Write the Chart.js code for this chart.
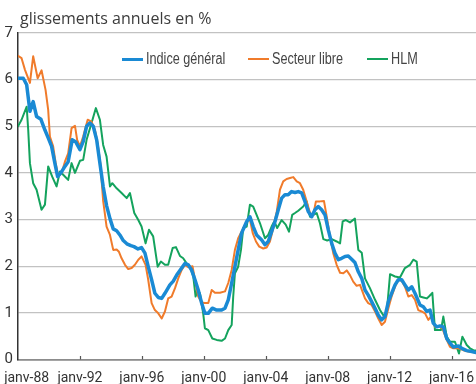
<!DOCTYPE html>
<html lang="fr">
<head>
<meta charset="UTF-8">
<title>Loyers - glissements annuels</title>
<script src="https://cdn.jsdelivr.net/npm/chart.js@4.4.1/dist/chart.umd.min.js"></script>
<style>
    html, body {
        margin: 0;
        padding: 0;
        background: #fff;
        overflow: hidden;
    }
    .wrap {
        position: relative;
        width: 476px;
        height: 384px;
    }
    .title {
        position: absolute;
        left: 20px;
        top: 7px;
        font-family: 'Open Sans', sans-serif;
        font-size: 16px;
        color: #3c3c3c;
        white-space: nowrap;
    }
    .legend-item {
        position: absolute;
        top: 49px;
        height: 20px;
        display: flex;
        align-items: center;
        white-space: nowrap;
    }
    .legend-item span {
        display: inline-block;
        width: 21px;
        margin-right: 3px;
    }
    .legend-item em {
        font-style: normal;
        font-family: 'Liberation Sans', Arial, sans-serif;
        font-size: 16px;
        color: #444;
        display: inline-block;
        transform: scaleX(0.79);
        transform-origin: left center;
    }
</style>
</head>
<body>
<div class="wrap">
    <canvas id="chart" width="476" height="384"></canvas>
    <div class="title">glissements annuels en %</div>
    <div id="legend"></div>
</div>
<script>
// Indice général
const indiceYears = [1988.0, 1988.34, 1988.56, 1988.77, 1988.98, 1989.20, 1989.48, 1989.74, 1989.95, 1990.17,
    1990.38, 1990.56, 1990.77, 1991.03, 1991.24, 1991.50, 1991.72, 1992.00, 1992.21, 1992.43,
    1992.64, 1992.86, 1993.08, 1993.29, 1993.50, 1993.72, 1993.94, 1994.15, 1994.37, 1994.58,
    1994.80, 1995.03, 1995.29, 1995.49, 1995.75, 1995.98, 1996.20, 1996.41, 1996.63, 1996.84,
    1997.06, 1997.28, 1997.49, 1997.81, 1998.03, 1998.25, 1998.57, 1998.78, 1999.00, 1999.21,
    1999.43, 1999.64, 1999.86, 2000.07, 2000.29, 2000.55, 2000.83, 2001.15, 2001.37, 2001.58,
    2001.80, 2002.01, 2002.22, 2002.44, 2002.77, 2002.98, 2003.19, 2003.41, 2003.74, 2003.95,
    2004.16, 2004.38, 2004.60, 2004.81, 2005.03, 2005.24, 2005.45, 2005.67, 2005.89, 2006.10,
    2006.32, 2006.53, 2006.75, 2006.97, 2007.18, 2007.39, 2007.61, 2007.83, 2008.04, 2008.26,
    2008.47, 2008.69, 2008.90, 2009.12, 2009.33, 2009.55, 2009.76, 2009.98, 2010.20, 2010.41,
    2010.62, 2010.84, 2011.06, 2011.27, 2011.49, 2011.70, 2011.92, 2012.13, 2012.35, 2012.56,
    2012.78, 2012.99, 2013.21, 2013.43, 2013.64, 2013.96, 2014.18, 2014.40, 2014.61, 2014.82,
    2015.04, 2015.26, 2015.47, 2015.69, 2015.90, 2016.11, 2016.44, 2016.66, 2016.98, 2017.30,
    2017.58];
const indiceValues = [6.03, 6.03, 5.89, 5.32, 5.53, 5.21, 5.15, 4.92, 4.75, 4.57,
    4.21, 3.92, 4.00, 4.14, 4.24, 4.71, 4.67, 4.50, 4.67, 5.00,
    5.07, 5.00, 4.71, 4.21, 3.71, 3.30, 3.02, 2.80, 2.76, 2.67,
    2.55, 2.48, 2.44, 2.42, 2.37, 2.40, 2.28, 1.99, 1.71, 1.42,
    1.33, 1.31, 1.42, 1.60, 1.68, 1.81, 1.96, 2.06, 2.03, 1.92,
    1.71, 1.49, 1.21, 0.99, 0.99, 1.10, 1.06, 1.06, 1.10, 1.28,
    1.64, 1.99, 2.35, 2.71, 2.96, 3.06, 2.85, 2.67, 2.56, 2.46,
    2.53, 2.74, 2.96, 3.21, 3.46, 3.53, 3.53, 3.60, 3.58, 3.60,
    3.57, 3.39, 3.17, 3.06, 3.21, 3.28, 3.21, 3.10, 2.78, 2.49,
    2.28, 2.14, 2.17, 2.21, 2.22, 2.15, 2.08, 1.88, 1.74, 1.49,
    1.38, 1.24, 1.10, 0.95, 0.85, 0.92, 1.24, 1.42, 1.60, 1.71,
    1.71, 1.60, 1.49, 1.56, 1.42, 1.17, 1.13, 1.03, 1.06, 0.78,
    0.70, 0.72, 0.70, 0.45, 0.35, 0.27, 0.29, 0.24, 0.19, 0.17,
    0.15];

// Secteur libre
const libreYears = [1988.0, 1988.23, 1988.45, 1988.77, 1988.98, 1989.27, 1989.52, 1989.78, 1989.95, 1990.06,
    1990.27, 1990.43, 1990.60, 1990.82, 1991.03, 1991.24, 1991.46, 1991.68, 1991.82, 1992.00,
    1992.21, 1992.50, 1992.75, 1992.97, 1993.14, 1993.32, 1993.50, 1993.72, 1993.94, 1994.15,
    1994.37, 1994.52, 1994.69, 1994.91, 1995.12, 1995.34, 1995.55, 1995.77, 1995.98, 1996.24,
    1996.41, 1996.63, 1996.84, 1997.06, 1997.28, 1997.49, 1997.70, 1997.92, 1998.14, 1998.35,
    1998.57, 1998.78, 1999.00, 1999.27, 1999.47, 1999.64, 1999.86, 2000.07, 2000.29, 2000.51,
    2000.72, 2001.04, 2001.37, 2001.58, 2001.80, 2002.01, 2002.22, 2002.44, 2002.77, 2002.94,
    2003.16, 2003.37, 2003.58, 2003.84, 2004.06, 2004.27, 2004.49, 2004.71, 2004.92, 2005.13,
    2005.35, 2005.57, 2005.78, 2006.00, 2006.21, 2006.42, 2006.64, 2006.86, 2007.07, 2007.24,
    2007.50, 2007.76, 2007.94, 2008.15, 2008.36, 2008.58, 2008.80, 2009.01, 2009.23, 2009.44,
    2009.65, 2009.87, 2010.09, 2010.41, 2010.62, 2010.84, 2011.06, 2011.27, 2011.49, 2011.70,
    2011.92, 2012.13, 2012.35, 2012.56, 2012.78, 2012.99, 2013.21, 2013.43, 2013.64, 2013.85,
    2014.07, 2014.29, 2014.50, 2014.67, 2014.93, 2015.15, 2015.40, 2015.69, 2015.90, 2016.11,
    2016.44, 2016.76, 2017.08, 2017.58];
const libreValues = [6.51, 6.46, 6.21, 5.93, 6.50, 6.03, 6.20, 5.78, 5.35, 4.78,
    4.57, 4.22, 3.92, 4.00, 4.24, 4.42, 4.96, 5.01, 4.71, 4.57,
    4.78, 5.14, 5.10, 4.92, 4.64, 4.20, 3.40, 2.85, 2.67, 2.35,
    2.36, 2.31, 2.17, 2.03, 1.94, 1.96, 2.03, 2.14, 2.21, 2.03,
    1.71, 1.21, 1.06, 0.99, 0.88, 1.03, 1.31, 1.35, 1.53, 1.74,
    1.92, 2.03, 1.98, 2.00, 1.64, 1.35, 1.22, 1.21, 1.21, 1.49,
    1.43, 1.43, 1.46, 1.64, 1.92, 2.35, 2.60, 2.74, 2.96, 3.06,
    2.71, 2.53, 2.42, 2.38, 2.40, 2.53, 2.82, 3.17, 3.64, 3.82,
    3.87, 3.89, 3.91, 3.82, 3.78, 3.64, 3.39, 3.14, 3.10, 3.39,
    3.39, 3.40, 3.06, 2.64, 2.28, 2.03, 1.86, 1.85, 1.91, 1.81,
    1.67, 1.58, 1.60, 1.31, 1.21, 1.17, 1.03, 0.88, 0.74, 0.81,
    1.10, 1.35, 1.56, 1.71, 1.69, 1.56, 1.35, 1.38, 1.28, 1.06,
    1.03, 0.99, 0.85, 0.92, 0.70, 0.72, 0.67, 0.42, 0.27, 0.24,
    0.24, 0.20, 0.17, 0.15];

// HLM
const hlmYears = [1988.0, 1988.23, 1988.56, 1988.66, 1988.77, 1988.98, 1989.20, 1989.52, 1989.74, 1989.95,
    1990.21, 1990.49, 1990.71, 1990.92, 1991.24, 1991.46, 1991.68, 1992.00, 1992.21, 1992.43,
    1992.75, 1993.03, 1993.29, 1993.50, 1993.72, 1993.94, 1994.09, 1994.37, 1994.69, 1995.02,
    1995.23, 1995.51, 1995.77, 1995.98, 1996.24, 1996.46, 1996.73, 1997.02, 1997.23, 1997.49,
    1997.70, 1997.99, 1998.20, 1998.46, 1998.67, 1998.89, 1999.11, 1999.32, 1999.47, 1999.60,
    1999.75, 1999.96, 2000.07, 2000.29, 2000.55, 2000.83, 2001.15, 2001.37, 2001.58, 2001.80,
    2001.90, 2002.01, 2002.22, 2002.40, 2002.55, 2002.77, 2002.98, 2003.19, 2003.41, 2003.63,
    2003.95, 2004.16, 2004.38, 2004.55, 2004.74, 2005.03, 2005.29, 2005.50, 2005.71, 2005.89,
    2006.10, 2006.42, 2006.64, 2006.86, 2007.07, 2007.29, 2007.50, 2007.72, 2007.97, 2008.26,
    2008.58, 2008.80, 2008.97, 2009.18, 2009.44, 2009.76, 2009.98, 2010.20, 2010.41, 2010.73,
    2011.06, 2011.38, 2011.59, 2011.81, 2012.03, 2012.35, 2012.67, 2012.99, 2013.32, 2013.53,
    2013.75, 2013.96, 2014.18, 2014.40, 2014.54, 2014.76, 2014.93, 2015.15, 2015.32, 2015.47,
    2015.69, 2015.90, 2016.22, 2016.48, 2016.70, 2016.98, 2017.19, 2017.41, 2017.58];
const hlmValues = [5.00, 5.14, 5.42, 4.92, 4.21, 3.78, 3.64, 3.21, 3.32, 4.14,
    3.92, 3.71, 4.03, 3.96, 3.85, 4.21, 4.00, 4.26, 4.28, 4.71,
    5.07, 5.39, 5.14, 4.60, 4.35, 3.71, 3.78, 3.67, 3.57, 3.46,
    3.57, 3.14, 2.99, 2.85, 2.49, 2.78, 2.64, 1.99, 2.10, 2.03,
    2.03, 2.39, 2.41, 2.22, 2.17, 2.06, 1.99, 1.78, 1.35, 1.49,
    1.42, 0.99, 0.67, 0.63, 0.45, 0.42, 0.40, 0.45, 0.63, 0.74,
    1.35, 1.85, 1.99, 2.35, 2.82, 2.85, 3.32, 3.28, 3.10, 2.92,
    2.60, 2.67, 2.85, 2.96, 2.82, 2.99, 2.89, 2.74, 3.10, 3.14,
    3.19, 3.28, 3.39, 3.06, 3.10, 3.14, 2.92, 2.58, 2.55, 2.58,
    2.53, 2.49, 2.96, 2.99, 2.94, 3.02, 2.35, 2.29, 1.74, 1.53,
    1.28, 1.06, 0.95, 0.99, 1.83, 1.78, 1.76, 1.96, 2.03, 2.14,
    2.10, 1.35, 1.33, 1.31, 1.35, 1.43, 0.63, 0.63, 0.63, 0.92,
    0.49, 0.38, 0.38, 0.13, 0.49, 0.31, 0.24, 0.20, 0.19];

const tickYears = [1988, 1992, 1996, 2000, 2004, 2008, 2012, 2016];

const seriesNames = ['Indice général', 'Secteur libre', 'HLM'];
const seriesColors = ['#1a8ad4', '#f07b2b', '#14a35d'];

const axisFont = { family: 'Roboto, sans-serif', size: 14 };

function points(xs, ys) {
    return xs.map((x, i) => ({ x: x, y: ys[i] }));
}

// little tick marks standing on the x axis, inside the plot
const axisTicks = {
    id: 'axisTicks',
    afterDraw(chart) {
        const ctx = chart.ctx;
        const x = chart.scales.x;
        const bottom = chart.chartArea.bottom;
        ctx.save();
        ctx.strokeStyle = '#555';
        ctx.lineWidth = 1.2;
        tickYears.slice(1).forEach(v => {
            const px = Math.round(x.getPixelForValue(v)) + 0.5;
            ctx.beginPath();
            ctx.moveTo(px, bottom);
            ctx.lineTo(px, bottom - 3.5);
            ctx.stroke();
        });
        ctx.restore();
    }
};

const chart = new Chart(document.getElementById('chart'), {
    type: 'line',
    data: {
        datasets: [
            { label: seriesNames[0], data: points(indiceYears, indiceValues), borderColor: seriesColors[0], borderWidth: 3.5 },
            { label: seriesNames[1], data: points(libreYears, libreValues), borderColor: seriesColors[1], borderWidth: 2 },
            { label: seriesNames[2], data: points(hlmYears, hlmValues), borderColor: seriesColors[2], borderWidth: 2 }
        ]
    },
    options: {
        responsive: false,
        animation: false,
        elements: {
            point: { radius: 0 },
            line: { tension: 0, borderJoinStyle: 'round', borderCapStyle: 'round', fill: false }
        },
        layout: { padding: { top: 33, left: 0, right: 0, bottom: 0 } },
        plugins: {
            legend: { display: false },
            tooltip: { enabled: false }
        },
        scales: {
            x: {
                type: 'linear',
                min: 1988,
                max: 2017.58,
                afterBuildTicks: s => { s.ticks = tickYears.map(v => ({ value: v })); },
                afterFit: s => { s.paddingLeft = 0; s.paddingRight = 0; s.height = 24.5; },
                grid: { display: false },
                border: { color: '#8c8c8c', width: 1.8 },
                ticks: {
                    autoSkip: false,
                    maxRotation: 0,
                    padding: 3,
                    color: '#333',
                    font: axisFont,
                    // first label nudged right so it fits next to the axis
                    callback: v => (v === tickYears[0] ? '\u00a0\u00a0\u00a0\u00a0\u00a0' : '') + 'janv-' + String(v).slice(2)
                }
            },
            y: {
                min: 0,
                max: 7,
                afterFit: s => { s.width = 18; },
                grid: { color: '#c2c2c2', lineWidth: 1.3, drawTicks: false },
                border: { color: '#333', width: 1.5 },
                ticks: {
                    stepSize: 1,
                    padding: 5,
                    color: '#333',
                    font: { family: 'Roboto, sans-serif', size: 15 }
                }
            }
        }
    },
    plugins: [axisTicks]
});

// legend row drawn inside the plot, under the top gridline
const legendPos = [[122, 146], [248, 272], [367, 391]];
const legend = document.getElementById('legend');
seriesNames.forEach((name, i) => {
    const item = document.createElement('div');
    item.className = 'legend-item';
    item.style.left = legendPos[i][0] + 'px';
    const swatch = document.createElement('span');
    swatch.style.height = (i === 0 ? 3 : 2) + 'px';
    swatch.style.background = seriesColors[i];
    const label = document.createElement('em');
    label.textContent = name;
    item.appendChild(swatch);
    item.appendChild(label);
    legend.appendChild(item);
});
</script>
</body>
</html>
